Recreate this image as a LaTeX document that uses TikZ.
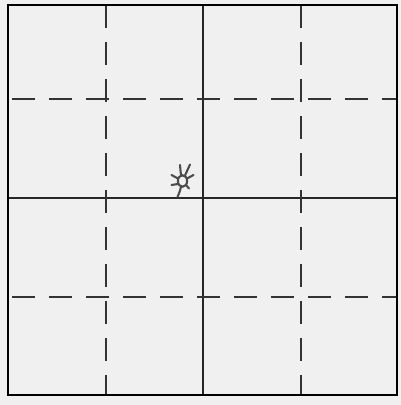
\documentclass[tikz,border=0pt]{standalone}
\begin{document}
\begin{tikzpicture}[x=1pt,y=-1pt,
  thinline/.style={line width=1.1pt, draw=black!85},
  dashline/.style={line width=1.3pt, draw=black!80, dash pattern=on 23pt off 14pt},
  framebox/.style={line width=2.8pt, draw=black},
  scrib/.style={line width=2.1pt, draw=black!70, line cap=round}]
\fill[black!6] (0,0) rectangle (401,405);
\useasboundingbox (0,0) rectangle (401,405);
\coordinate (tl) at (8,5);
\coordinate (br) at (397,395);
% solid centre lines
\draw[thinline] (203,5) -- (203,395);
\draw[thinline] (8,198) -- (397,198);
% dashed lines
\draw[dashline, dash phase=0pt] (106,5) -- (106,395);
\draw[dashline, dash phase=0pt] (301,5) -- (301,395);
\draw[dashline, dash phase=-4pt] (8,99) -- (397,99);
\draw[dashline, dash phase=-4pt] (8,297) -- (397,297);
% scribble
\draw[scrib] (182.5,181) ellipse (4.6pt and 5.8pt);
\draw[scrib] (181,175.5) -- (180,165);
\draw[scrib] (185,175.5) -- (190,164.5);
\draw[scrib] (187,178.5) -- (193.5,175);
\draw[scrib] (178,178.5) -- (171.5,175);
\draw[scrib] (178,184) -- (171.5,185);
\draw[scrib] (181,186.5) .. controls (180,191) .. (177.5,197);
\draw[scrib] (186,185) -- (189,188.5);
\draw[framebox] (tl) rectangle (br);
\end{tikzpicture}
\end{document}
